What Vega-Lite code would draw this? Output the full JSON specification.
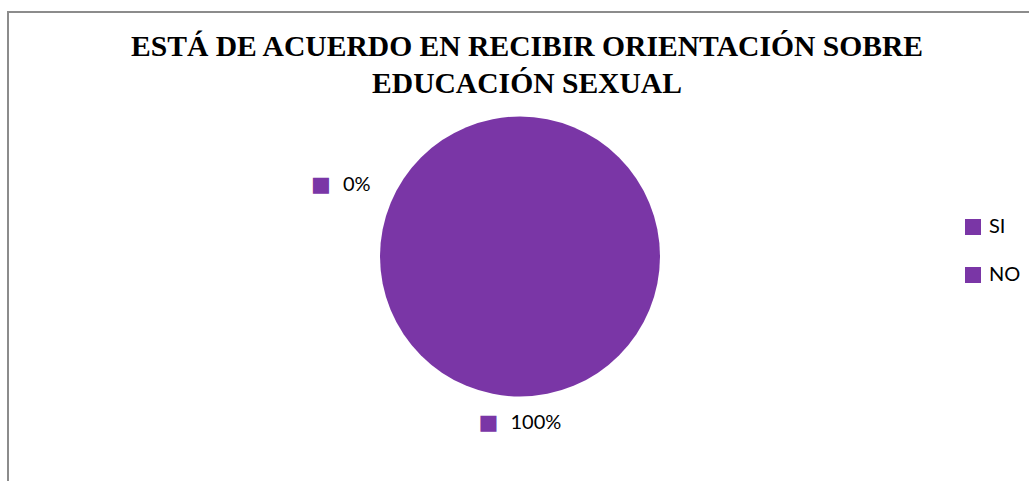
{
  "$schema": "https://vega.github.io/schema/vega-lite/v6.json",
  "autosize": {"type": "fit", "contains": "padding"},
  "width": 1034,
  "height": 481,
  "padding": {"left": 8, "top": 12, "right": 2, "bottom": -20},
  "background": "white",
  "view": {"stroke": "#8c8c8c", "strokeWidth": 2, "strokeDash": [1021, 1516, 700], "fill": "white"},
  "config": {
    "view": {"stroke": "#8c8c8c", "strokeWidth": 2, "strokeDash": [1021, 1516, 700]},
    "font": "Lato"
  },
  "title": {
    "text": ["ESTÁ DE ACUERDO EN RECIBIR ORIENTACIÓN SOBRE", "EDUCACIÓN SEXUAL"],
    "font": "Liberation Serif",
    "fontSize": 29.6,
    "fontWeight": "bold",
    "color": "black",
    "anchor": "middle",
    "offset": -88,
    "lineHeight": 37,
    "dx": 7
  },
  "data": {
    "values": [
      {"respuesta": "SI", "proporcion": 1},
      {"respuesta": "NO", "proporcion": 0}
    ]
  },
  "layer": [
    {
      "mark": {"type": "arc", "outerRadius": 140},
      "encoding": {
        "theta": {"field": "proporcion", "type": "quantitative", "stack": true},
        "order": {"field": "proporcion", "type": "quantitative", "sort": "descending"},
        "color": {
          "field": "respuesta",
          "type": "nominal",
          "scale": {"domain": ["SI", "NO"], "range": ["#7A36A6", "#7A36A6"]},
          "legend": {
            "title": null,
            "orient": "none",
            "legendX": 955,
            "legendY": 205,
            "symbolType": "square",
            "symbolSize": 256,
            "symbolStrokeWidth": 0,
            "labelFont": "Lato",
            "labelFontSize": 20,
            "labelColor": "black",
            "labelOffset": 6,
            "rowPadding": 28,
            "padding": 0
          }
        }
      }
    },
    {
      "mark": {"type": "text", "text": "■", "font": "DejaVu Sans", "fontSize": 21, "color": "#7A36A6", "align": "center", "baseline": "middle"},
      "encoding": {
        "theta": {"field": "proporcion", "type": "quantitative", "stack": null, "scale": {"domain": [0, 1], "range": [-1.225, 3.329]}},
        "radius": {"field": "proporcion", "type": "quantitative", "scale": {"type": "linear", "zero": false, "domain": [0, 1], "range": [211.5, 169]}}
      }
    },
    {
      "mark": {"type": "text", "font": "Lato", "fontSize": 20, "color": "black", "align": "left", "baseline": "middle", "dx": 22},
      "encoding": {
        "theta": {"field": "proporcion", "type": "quantitative", "stack": null, "scale": {"domain": [0, 1], "range": [-1.225, 3.329]}},
        "radius": {"field": "proporcion", "type": "quantitative", "scale": {"type": "linear", "zero": false, "domain": [0, 1], "range": [211.5, 169]}},
        "text": {"field": "proporcion", "type": "quantitative", "format": ".0%"}
      }
    }
  ],
  "resolve": {"scale": {"theta": "independent", "radius": "independent"}}
}
